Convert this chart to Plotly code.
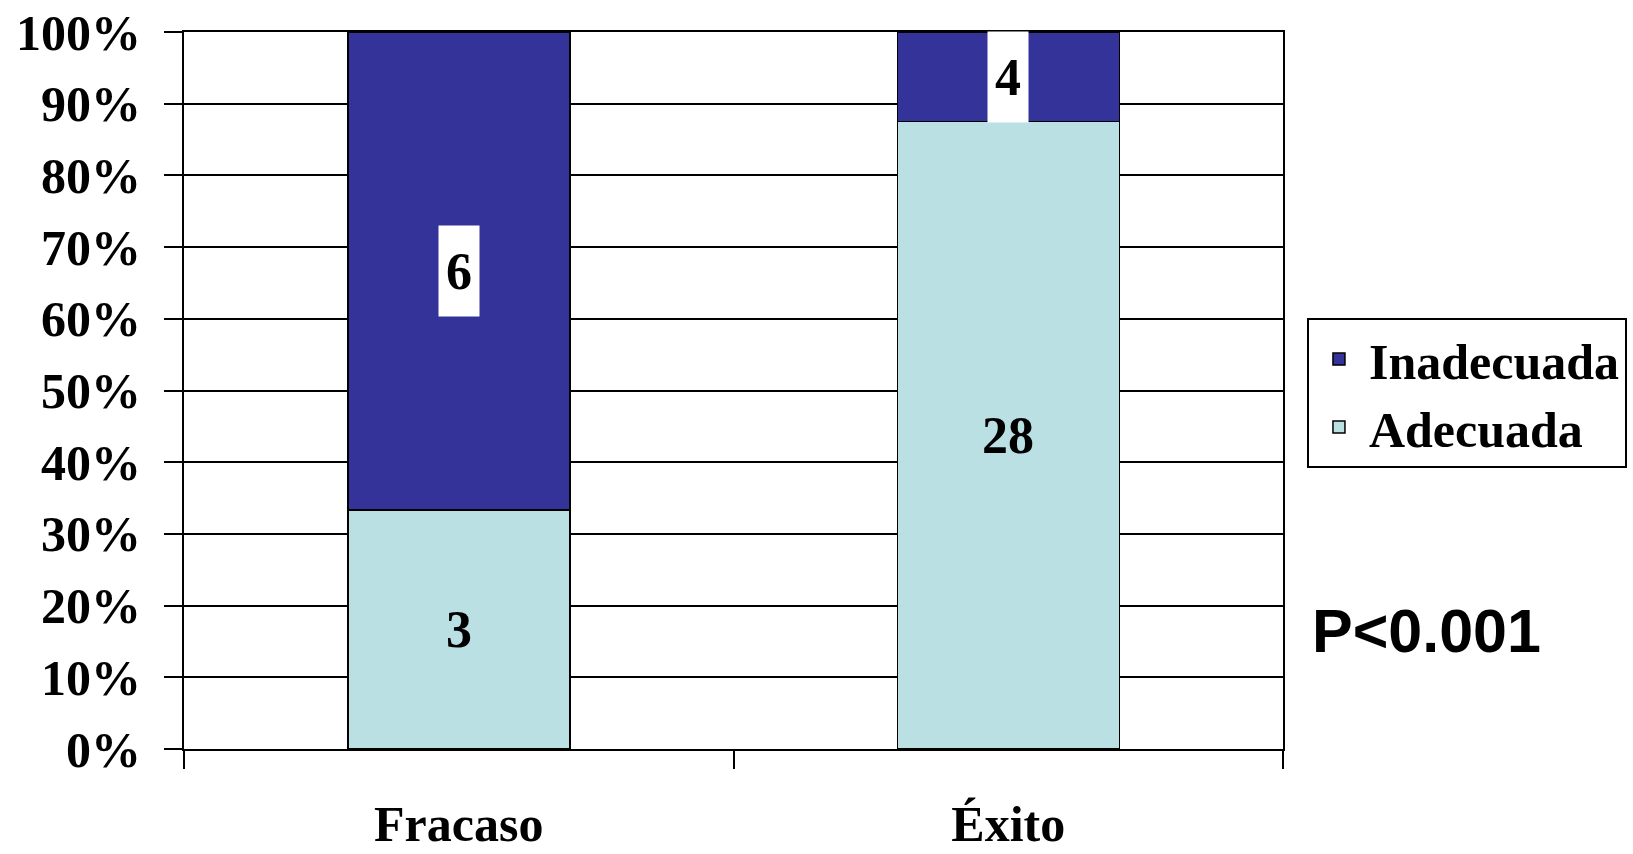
import plotly.graph_objects as go

categories = ["Fracaso", "Éxito"]
adecuada = [3, 28]
inadecuada = [6, 4]
series_names = ["Adecuada", "Inadecuada"]
colors = ["#BBE0E3", "#333399"]
pvalue_text = "P<0.001"

SERIF = "Liberation Serif, Times New Roman, serif"
SANS = "Liberation Sans, Arial, sans-serif"

fig = go.Figure()
for name, vals, col in zip(series_names, [adecuada, inadecuada], colors):
    fig.add_trace(go.Bar(
        x=categories, y=vals, name=name,
        marker=dict(color=col, line=dict(color="black", width=1.5)),
    ))

# labels at segment centers (percent-normalized)
for i, cat in enumerate(categories):
    tot = adecuada[i] + inadecuada[i]
    pa = adecuada[i] / tot * 100
    pi = inadecuada[i] / tot * 100
    fig.add_annotation(x=cat, y=pa / 2, xref="x", yref="y", text=str(adecuada[i]),
                       showarrow=False, font=dict(family=SERIF, size=52, color="black", weight="bold"))
    fig.add_annotation(x=cat, y=pa + pi / 2, xref="x", yref="y", text=str(inadecuada[i]),
                       showarrow=False, bgcolor="white", borderpad=0, width=40, height=90,
                       font=dict(family=SERIF, size=52, color="black", weight="bold"))

fig.add_annotation(x=1.0246, y=0.165, xref="paper", yref="paper", xanchor="left", yanchor="middle",
                   text=pvalue_text, showarrow=False,
                   font=dict(family=SANS, size=61, color="black", weight="bold"))

fig.update_layout(
    width=1633, height=854,
    margin=dict(l=184, r=350, t=32, b=105, autoexpand=False),
    paper_bgcolor="white", plot_bgcolor="white",
    barmode="stack", barnorm="percent", bargap=0.596,
    font=dict(family=SERIF, color="black"),
    legend=dict(x=1.0218, y=0.601, xanchor="left", yanchor="top",
                bordercolor="black", borderwidth=2, bgcolor="white",
                font=dict(family=SERIF, size=50, color="black", weight="bold"),
                itemwidth=50),
    xaxis=dict(showline=True, linecolor="black", linewidth=2, mirror=True, automargin=False,
               ticks="outside", tickson="boundaries", ticklen=18, tickwidth=2, tickcolor="black",
               ticklabelstandoff=30,
               tickfont=dict(family=SERIF, size=50, color="black", weight="bold"),
               showgrid=False),
    yaxis=dict(range=[0, 100], dtick=10, ticksuffix="%", automargin=False,
               showline=True, linecolor="black", linewidth=2, mirror=True,
               ticks="outside", ticklen=18, tickwidth=2, tickcolor="black",
               ticklabelstandoff=13,
               showgrid=True, gridcolor="black", gridwidth=2, zeroline=False,
               tickfont=dict(family=SERIF, size=50, color="black", weight="bold")),
)

fig.write_html("out.html")
